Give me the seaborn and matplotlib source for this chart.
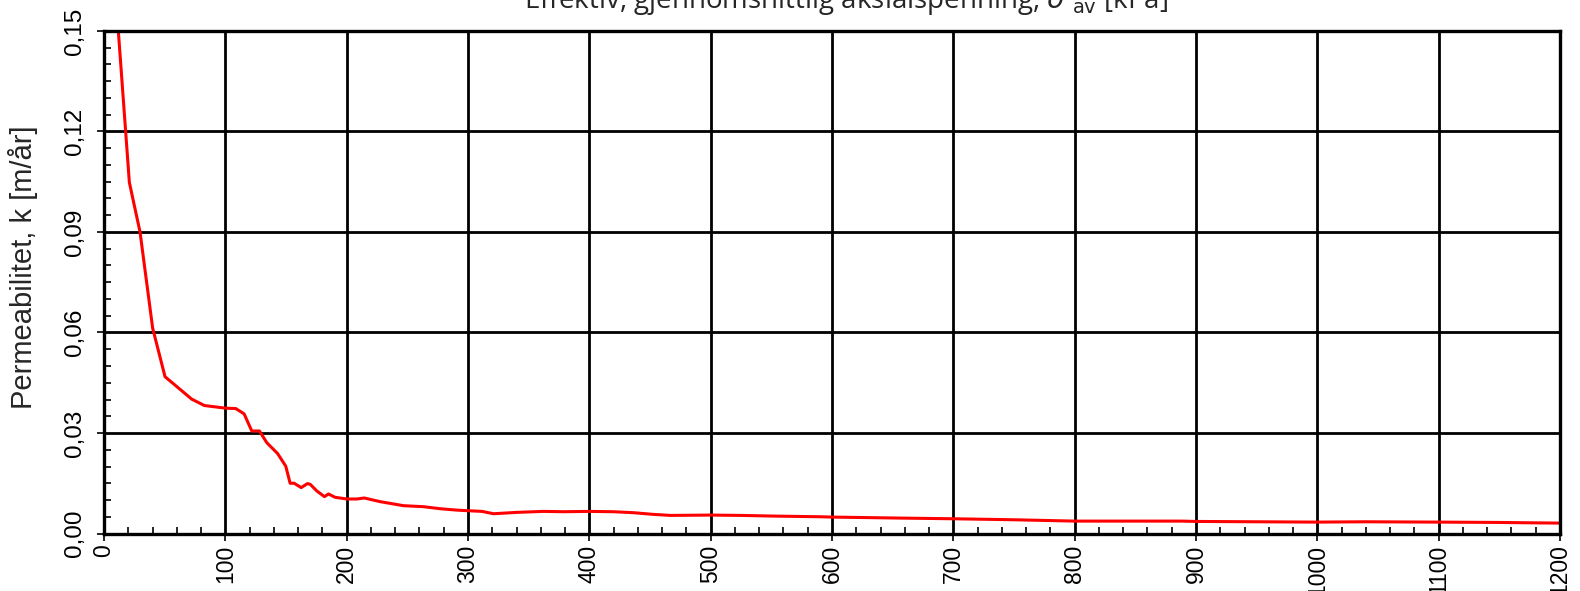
import matplotlib
matplotlib.use("Agg")
import matplotlib.pyplot as plt
from matplotlib.ticker import MultipleLocator, FuncFormatter
import seaborn as sns
import pandas as pd

# effective average axial stress [kPa] and permeability [m/year]
stress = [10, 20.9, 29.7, 40.1, 50.3, 60.5, 72.3, 82.8, 100.4, 108.6, 115.5,
          121.8, 128.1, 134.2, 143.0, 149.8, 153.4, 156.7, 162.5, 167.7, 169.9,
          175.4, 181.7, 185.0, 190.5, 200.2, 208.4, 214.5, 227.7, 246.9, 263.4,
          277, 290, 300, 311.5, 321, 340, 362, 379, 400, 420, 436.7, 453, 467,
          500, 525, 552, 590, 600, 657, 700, 750, 800, 888, 900, 1000, 1039,
          1100, 1149, 1200]
permeability = [0.159, 0.1048, 0.0900, 0.0613, 0.0468, 0.0437, 0.0401, 0.0382,
                0.0374, 0.0373, 0.0357, 0.0306, 0.0306, 0.0271, 0.0239, 0.0201,
                0.0150, 0.0150, 0.0137, 0.0149, 0.0147, 0.0127, 0.0110, 0.0118,
                0.0108, 0.0103, 0.0103, 0.0106, 0.0095, 0.0083, 0.0080, 0.0074,
                0.0070, 0.0068, 0.0066, 0.0059, 0.0063, 0.0066, 0.0065, 0.0066,
                0.0065, 0.0062, 0.0057, 0.0054, 0.0055, 0.0054, 0.0052, 0.0050,
                0.0049, 0.0046, 0.0044, 0.0041, 0.0037, 0.0037, 0.0036, 0.0034,
                0.0035, 0.0034, 0.0033, 0.0031]

df = pd.DataFrame({"stress": stress, "k": permeability})

sns.set_style("white")
plt.rcParams["font.family"] = ["Liberation Sans", "DejaVu Sans"]

fig = plt.figure(figsize=(15.8, 5.91), dpi=100)
ax = fig.add_axes([104 / 1580, 1 - 533.5 / 591, (1560 - 104) / 1580, (533.5 - 31) / 591])

sns.lineplot(data=df, x="stress", y="k", color="#ff0000", linewidth=2.2, ax=ax, sort=False)

ax.set_xlim(0, 1200)
ax.set_ylim(0, 0.15)
ax.xaxis.set_major_locator(MultipleLocator(100))
ax.xaxis.set_minor_locator(MultipleLocator(20))
ax.yaxis.set_major_locator(MultipleLocator(0.03))
ax.yaxis.set_minor_locator(MultipleLocator(0.005))
ax.yaxis.set_major_formatter(FuncFormatter(lambda v, p: f"{v:.2f}".replace(".", ",")))

ax.grid(True, which="major", color="black", linewidth=2.0)
ax.set_axisbelow(True)
for s in ax.spines.values():
    s.set_visible(True)
    s.set_color("black")
    s.set_linewidth(2.4)

ax.tick_params(which="major", direction="out", length=5, width=1.2, colors="black",
               labelsize=17.5, bottom=True, left=True)
ax.tick_params(which="minor", direction="in", length=5, width=1.2, colors="black",
               bottom=True, left=True)
ax.tick_params(axis="x", labelrotation=90, pad=3, labelsize=16.5)
ax.tick_params(axis="y", labelrotation=90, pad=8)
for lab in ax.get_yticklabels():
    lab.set_va("center")

ax.set_xlabel("")
ax.set_ylabel("")
fig.text(23 / 1580, 1 - 267 / 591, "Permeabilitet, k [m/år]", rotation=90,
         ha="center", va="center", fontsize=21)

fig.text(846 / 1580, 1 - 8 / 591, r"Effektiv, gjennomsnittlig aksialspenning, $\sigma'_{\mathrm{av}}$ [kPa]",
         ha="center", va="baseline", fontsize=20, family=["Open Sans", "DejaVu Sans"])

fig.savefig("out.png", dpi=100)
